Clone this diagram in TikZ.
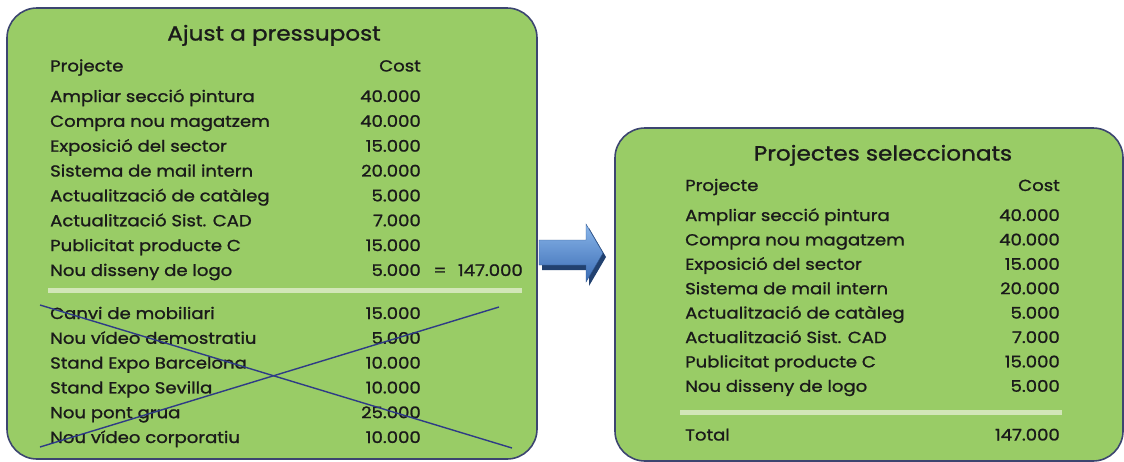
\documentclass[tikz,border=0pt]{standalone}
\usepackage{fontspec}
\setmainfont{Poppins}[FakeBold=1.2,FakeStretch=1.13]
\definecolor{boxgreen}{HTML}{99CC66}
\definecolor{boxedge}{HTML}{3C4570}
\definecolor{sepline}{HTML}{D2E6B8}
\definecolor{crossblue}{HTML}{2E3B86}
\definecolor{txt}{HTML}{1A1A1A}
\definecolor{arrtop}{HTML}{8AB6EA}
\definecolor{arrbot}{HTML}{3A6CB4}
\definecolor{arrshadow}{HTML}{22416F}
\begin{document}
\begin{tikzpicture}[x=1pt,y=-1pt,
  panel/.style={draw=boxedge,line width=1.6pt,fill=boxgreen,rounded corners=30pt,inner sep=0pt},
  rowtext/.style={inner sep=0pt,text=txt,font=\fontsize{16}{19}\selectfont},
  lname/.style={rowtext,anchor=base west},
  lcost/.style={rowtext,anchor=base east},
  ttl/.style={inner sep=0pt,text=txt,anchor=base,font=\fontsize{20.5}{24}\selectfont},
  sep/.style={draw=sepline,line width=5.5pt},
  cross/.style={draw=crossblue,line width=1.4pt}]
\useasboundingbox (0,0) rectangle (1124,461);
% panels
\node[panel,minimum width=530pt,minimum height=451pt] (leftbox) at (272,233.5) {};
\node[panel,minimum width=508pt,minimum height=333pt] (rightbox) at (869,294.5) {};
% left panel
\node[ttl] (lt) at (274,40.5) {Ajust a pressupost};
\node[lname] (lh1) at (50,71.5) {Projecte};
\node[lcost] (lh2) at (421,71.5) {Cost};
\foreach \n/\c [count=\i from 0] in {
  Ampliar secció pintura/40.000,
  Compra nou magatzem/40.000,
  Exposició del sector/15.000,
  Sistema de mail intern/20.000,
  Actualització de catàleg/5.000,
  Actualització Sist. CAD/7.000,
  Publicitat producte C/15.000,
  Nou disseny de logo/5.000}{
  \node[lname] (ln\i) at (50,102+24.85*\i) {\n};
  \node[lcost] (lc\i) at (421,102+24.85*\i) {\c};
}
\node[rowtext,anchor=base] (leq) at (440,276) {=};
\node[lcost] (ltot) at (523,276) {147.000};
\coordinate (ls1) at (48,290.5);
\coordinate (ls2) at (522,290.5);
\draw[sep] (ls1) -- (ls2);
\foreach \n/\c [count=\i from 0] in {
  Canvi de mobiliari/15.000,
  Nou vídeo demostratiu/5.000,
  Stand Expo Barcelona/10.000,
  Stand Expo Sevilla/10.000,
  Nou pont grua/25.000,
  Nou vídeo corporatiu/10.000}{
  \node[lname] (lx\i) at (50,319+24.8*\i) {\n};
  \node[lcost] (lxc\i) at (421,319+24.8*\i) {\c};
}
\coordinate (x1a) at (40,305);
\coordinate (x1b) at (512,448);
\coordinate (x2a) at (499,307);
\coordinate (x2b) at (40,447);
\draw[cross] (x1a) -- (x1b);
\draw[cross] (x2a) -- (x2b);
% arrow
\fill[arrshadow] (542,244) -- (589,244) -- (589,228) -- (606,257) -- (589,286) -- (589,270) -- (542,270) -- cycle;
\shade[top color=arrtop,bottom color=arrbot,draw=arrbot!80!black,line width=0.4pt]
  (539,240) -- (586,240) -- (586,224) -- (603,253) -- (586,282) -- (586,265) -- (539,265) -- cycle;
% right panel
\node[ttl] (rt) at (883,160.5) {Projectes seleccionats};
\node[lname] (rh1) at (685,191) {Projecte};
\node[lcost] (rh2) at (1060,191) {Cost};
\foreach \n/\c [count=\i from 0] in {
  Ampliar secció pintura/40.000,
  Compra nou magatzem/40.000,
  Exposició del sector/15.000,
  Sistema de mail intern/20.000,
  Actualització de catàleg/5.000,
  Actualització Sist. CAD/7.000,
  Publicitat producte C/15.000,
  Nou disseny de logo/5.000}{
  \node[lname] (rn\i) at (685,221+24.4*\i) {\n};
  \node[lcost] (rc\i) at (1060,221+24.4*\i) {\c};
}
\coordinate (rs1) at (680,412.5);
\coordinate (rs2) at (1062,412.5);
\draw[sep] (rs1) -- (rs2);
\node[lname] (rtl) at (685,440.5) {Total};
\node[lcost] (rtv) at (1060,440.5) {147.000};
\end{tikzpicture}
\end{document}
